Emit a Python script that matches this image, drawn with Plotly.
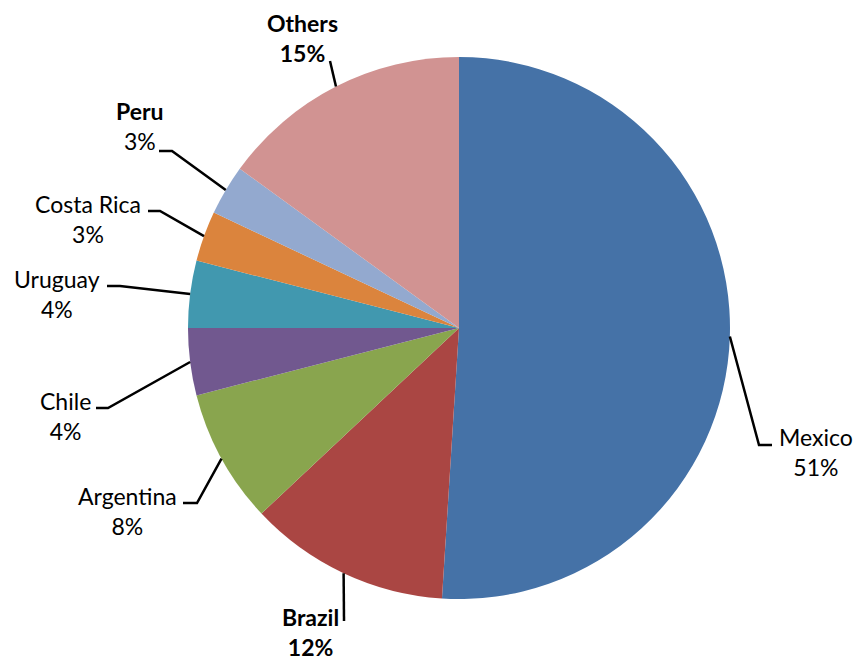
import math
import plotly.graph_objects as go

# Share by country
countries = ["Mexico", "Brazil", "Argentina", "Chile", "Uruguay", "Costa Rica", "Peru", "Others"]
shares = [51, 12, 8, 4, 4, 3, 3, 15]
colors = ["#4572A7", "#AA4643", "#89A54E", "#71588F", "#4198AF", "#DB843D", "#93A9CF", "#D19392"]
bold_name = {"Mexico": False, "Brazil": True, "Argentina": False, "Chile": False,
             "Uruguay": False, "Costa Rica": False, "Peru": True, "Others": True}
bold_pct = {"Brazil": True, "Others": True}

W, H = 861, 664
CX, CY, R = 459, 328, 271  # pie centre and radius in pixels

# Label block centres and leader-line bends (pixels)
label_pos = {
    "Mexico": (816, 452), "Brazil": (310, 632), "Argentina": (127, 511),
    "Chile": (65, 416), "Uruguay": (57, 294), "Costa Rica": (88, 219),
    "Peru": (140, 126), "Others": (302, 38),
}
leader_pts = {
    "Mexico": [(759, 445), (772, 445)],
    "Brazil": [(344, 621)],
    "Argentina": [(197, 503), (183, 503)],
    "Chile": [(108, 408), (96, 408)],
    "Uruguay": [(120, 286), (107, 286)],
    "Costa Rica": [(160, 211), (148, 211)],
    "Peru": [(172, 151), (159, 151)],
    "Others": [(330, 61)],
}


def px(x):
    return x / W


def py(y):
    return 1 - y / H


fig = go.Figure(go.Pie(
    labels=countries,
    values=shares,
    sort=False,
    direction="clockwise",
    rotation=0,
    marker=dict(colors=colors, line=dict(width=0)),
    textinfo="none",
    showlegend=False,
    domain=dict(x=[px(CX - R), px(CX + R)], y=[py(CY + R), py(CY - R)]),
))

total = sum(shares)
cum = 0.0
annotations = []
shapes = []
for name, val in zip(countries, shares):
    mid = (cum + val / 2) / total * 2 * math.pi
    cum += val
    # point on the rim at the middle of the slice
    sx = CX + R * math.sin(mid)
    sy = CY - R * math.cos(mid)
    pts = [(sx, sy)] + leader_pts[name]
    path = "M " + " L ".join(f"{px(x):.5f},{py(y):.5f}" for x, y in pts)
    shapes.append(dict(type="path", path=path, xref="paper", yref="paper",
                       line=dict(color="black", width=2.5)))

    pct = f"{round(100 * val / total)}%"
    n_txt = f"<b>{name}</b>" if bold_name[name] else name
    p_txt = f"<b>{pct}</b>" if bold_pct.get(name) else pct
    lx, ly = label_pos[name]
    annotations.append(dict(
        x=px(lx), y=py(ly), xref="paper", yref="paper",
        text=f"{n_txt}<br>{p_txt}", showarrow=False,
        xanchor="center", yanchor="middle", align="center",
        font=dict(family="Lato", size=23, color="black"),
    ))

fig.update_layout(
    width=W, height=H,
    margin=dict(l=0, r=0, t=0, b=0),
    paper_bgcolor="white",
    plot_bgcolor="white",
    annotations=annotations,
    shapes=shapes,
)

fig.write_html("out.html")
